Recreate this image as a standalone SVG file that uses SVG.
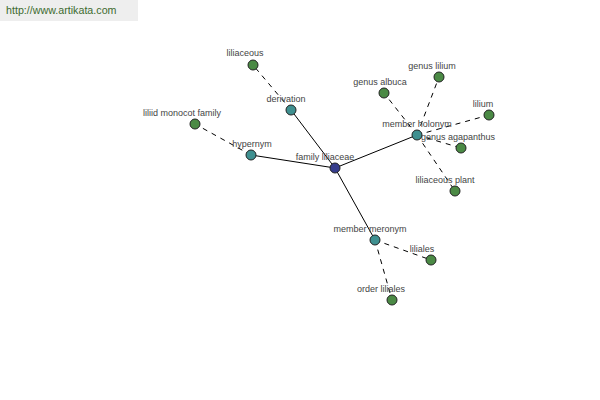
<svg xmlns="http://www.w3.org/2000/svg" width="600" height="400" viewBox="0 0 600 400">
<style>
text{font-family:"Liberation Sans",Arial,sans-serif;font-size:9px;fill:#444;text-anchor:middle}
.solid{stroke:#000;stroke-width:1;fill:none}
.dash{stroke:#000;stroke-width:1;stroke-dasharray:5,5;fill:none}
.leaf{fill:#4b8a45;stroke:#222;stroke-width:1}
.rel{fill:#3f9090;stroke:#222;stroke-width:1}
.root{fill:#363d8c;stroke:#222;stroke-width:1}
.url{font-size:10.7px;fill:#3d6b2e;text-anchor:start}
</style>
<rect x="0" y="0" width="138" height="21" fill="#eeeeee"/>
<text class="url" x="6" y="14">http://www.artikata.com</text>
<g id="connectors">
<line class="solid" x1="335" y1="168" x2="291" y2="110"/>
<line class="solid" x1="335" y1="168" x2="251" y2="155"/>
<line class="solid" x1="335" y1="168" x2="417" y2="135"/>
<line class="solid" x1="335" y1="168" x2="375" y2="240"/>
<line class="dash" x1="291" y1="110" x2="253" y2="65"/>
<line class="dash" x1="251" y1="155" x2="195" y2="124"/>
<line class="dash" x1="417" y1="135" x2="439" y2="77"/>
<line class="dash" x1="417" y1="135" x2="384" y2="93"/>
<line class="dash" x1="417" y1="135" x2="489" y2="115"/>
<line class="dash" x1="417" y1="135" x2="461" y2="148"/>
<line class="dash" x1="417" y1="135" x2="455" y2="191"/>
<line class="dash" x1="375" y1="240" x2="431" y2="260"/>
<line class="dash" x1="375" y1="240" x2="392" y2="300"/>
</g>
<g id="n-family-liliaceae"><circle class="root" cx="335" cy="168" r="5"/><text x="325" y="160">family liliaceae</text></g>
<g id="n-derivation"><circle class="rel" cx="291" cy="110" r="5"/><text x="286" y="102">derivation</text></g>
<g id="n-liliaceous"><circle class="leaf" cx="253" cy="65" r="5"/><text x="245" y="56">liliaceous</text></g>
<g id="n-hypernym"><circle class="rel" cx="251" cy="155" r="5"/><text x="252" y="147">hypernym</text></g>
<g id="n-liliid-monocot-family"><circle class="leaf" cx="195" cy="124" r="5"/><text x="182" y="116">liliid monocot family</text></g>
<g id="n-member-holonym"><circle class="rel" cx="417" cy="135" r="5"/><text x="417" y="127">member holonym</text></g>
<g id="n-genus-lilium"><circle class="leaf" cx="439" cy="77" r="5"/><text x="432" y="69">genus lilium</text></g>
<g id="n-genus-albuca"><circle class="leaf" cx="384" cy="93" r="5"/><text x="380" y="85">genus albuca</text></g>
<g id="n-lilium"><circle class="leaf" cx="489" cy="115" r="5"/><text x="483" y="107">lilium</text></g>
<g id="n-genus-agapanthus"><circle class="leaf" cx="461" cy="148" r="5"/><text x="458" y="140">genus agapanthus</text></g>
<g id="n-liliaceous-plant"><circle class="leaf" cx="455" cy="191" r="5"/><text x="445" y="183">liliaceous plant</text></g>
<g id="n-member-meronym"><circle class="rel" cx="375" cy="240" r="5"/><text x="370" y="232">member meronym</text></g>
<g id="n-liliales"><circle class="leaf" cx="431" cy="260" r="5"/><text x="422" y="252">liliales</text></g>
<g id="n-order-liliales"><circle class="leaf" cx="392" cy="300" r="5"/><text x="381" y="292">order liliales</text></g>
</svg>
